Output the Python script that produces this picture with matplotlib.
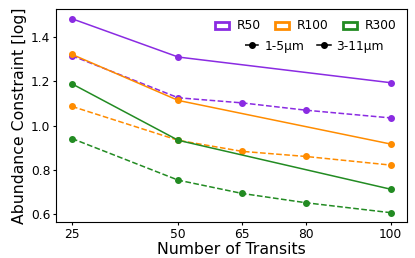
import matplotlib.pyplot as plt
from matplotlib.patches import Patch
from matplotlib.lines import Line2D

# number of transits
transits_all = [25, 50, 65, 80, 100]
transits_long = [25, 50, 100]

# abundance constraints, 1-5um (dashed)
r50_short = [1.316, 1.126, 1.103, 1.070, 1.035]
r100_short = [1.087, 0.934, 0.884, 0.861, 0.822]
r300_short = [0.942, 0.754, 0.694, 0.652, 0.607]

# abundance constraints, 3-11um (solid)
r50_long = [1.483, 1.310, 1.194]
r100_long = [1.322, 1.114, 0.917]
r300_long = [1.189, 0.934, 0.713]

res_labels = ["R50", "R100", "R300"]
colors = ["#8a2be2", "#ff8c00", "#228b22"]

fig, ax = plt.subplots(figsize=(4.15, 2.58), dpi=100)

for lo, sh, c in zip([r50_long, r100_long, r300_long],
                     [r50_short, r100_short, r300_short], colors):
    ax.plot(transits_long, lo, "-o", color=c, lw=1.1, ms=4)
    ax.plot(transits_all, sh, "--o", color=c, lw=1.1, ms=4)

ax.set_xticks(transits_all)
ax.set_yticks([0.6, 0.8, 1.0, 1.2, 1.4])
ax.tick_params(labelsize=8.8, length=2.5, pad=1.5)
ax.set_xlabel("Number of Transits", fontsize=11.3, labelpad=1)
ax.set_ylabel("Abundance Constraint [log]", fontsize=11.3, labelpad=3)

# legend for resolutions
res_handles = [Patch(facecolor="white", edgecolor=c, linewidth=2) for c in colors]
leg1 = ax.legend(res_handles, res_labels, loc="upper right", ncol=3, frameon=False,
                 fontsize=8.8, handlelength=1.2, handleheight=0.5, columnspacing=1.15,
                 handletextpad=0.6, borderaxespad=0.45)
ax.add_artist(leg1)

# legend for wavelength range
wl_handles = [Line2D([], [], color="k", ls="--", marker="o", ms=4, lw=1.1),
              Line2D([], [], color="k", ls="-", marker="o", ms=4, lw=1.1)]
ax.legend(wl_handles, ["1-5μm", "3-11μm"], loc="upper right", ncol=2, frameon=False,
          fontsize=8.8, handlelength=1.2, columnspacing=1.0, handletextpad=0.4,
          borderaxespad=0, bbox_to_anchor=(0.948, 0.88))

fig.subplots_adjust(left=0.135, right=0.98, top=0.965, bottom=0.138)
fig.savefig("out.png", dpi=100)
